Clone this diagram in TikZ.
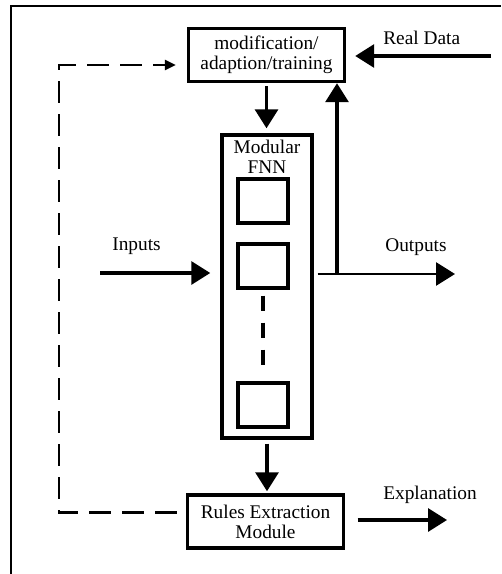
\documentclass[tikz,border=0pt]{standalone}
\usepackage{fontspec}
\setmainfont{Liberation Serif}
\usetikzlibrary{positioning}
\usetikzlibrary{arrows.meta}
\tikzset{%
  bigarrow/.style = {-{Triangle[length=0.38cm,width=0.46cm]},line width=0.065cm},
  fbarrow/.style = {-{Triangle[length=0.22cm,width=0.2cm]},line width=0.05cm,
        dash pattern=on 0.43cm off 0.23cm},
  blk/.style = {rectangle,draw,line width=0.07cm,minimum width=3.12cm,
        minimum height=1.06cm,align=center,inner sep=0pt},
  unit/.style = {rectangle,draw,line width=0.07cm,minimum width=1.0cm,
        minimum height=0.88cm},
  lbl/.style = {inner sep=0pt,anchor=base west}
}
\begin{document}
\begin{tikzpicture}[x=0.02cm,y=-0.02cm]\fontsize{11}{11.4}\selectfont
  \useasboundingbox (0,0) rectangle (501,574);
  \draw[line width=0.045cm] (11,574) -- (11,6) -- (501,6);

  \node[blk] (train) at (266.5,55) {modification/\\adaption/training};
  \node[rectangle,draw,line width=0.07cm,minimum width=1.8cm,
        minimum height=6.06cm] (fnn) at (267,286.5) {};
  \node[align=center,below=0pt of fnn.north] (fnnlbl) {Modular\\FNN};
  \node[unit] (u1) at (263,201) {};
  \node[unit] (u2) at (263,266) {};
  \node[unit] (u3) at (263,405) {};
  \node[blk] (rules) at (265.5,521.5) {Rules Extraction\\Module};

  \coordinate (realin) at (491,56);
  \coordinate (inp) at (100,273);
  \coordinate (split) at (337,274);
  \coordinate (outp) at (455,274);
  \coordinate (expl) at (447,520);

  \node[lbl] (reallbl) at (383,45) {Real Data};
  \node[lbl] (inlbl) at (112,250) {Inputs};
  \node[lbl] (outlbl) at (385,251) {Outputs};
  \node[lbl] (expllbl) at (383,499) {Explanation};

  \draw[bigarrow,shorten >=0.18cm] (realin) -- (realin -| train.east);
  \draw[bigarrow,shorten <=0.06cm,shorten >=0.1cm] (train.south) -- (train.south |- fnn.north);
  \draw[bigarrow,shorten >=0.2cm] (inp) -- (inp -| fnn.west);
  \draw[bigarrow,line width=0.055cm,shorten <=0.08cm] (fnn.east |- split) -- (outp);
  \draw[bigarrow] (split) -- (split |- train.south);
  \draw[bigarrow,shorten <=0.08cm,shorten >=0.04cm] (fnn.south) -- (fnn.south |- rules.north);
  \draw[bigarrow,shorten <=0.25cm] (rules.east |- expl) -- (expl);

  \draw[line width=0.065cm,dash pattern=on 0.3cm off 0.24cm,
        shorten <=0.12cm,shorten >=0.26cm] (u2) -- (u3);
  \draw[fbarrow,shorten <=0.18cm,shorten >=0.22cm] ([yshift=0.18cm]rules.west)
        -- ++(-127,0) |- ([yshift=-0.2cm]train.west);
\end{tikzpicture}
\end{document}
